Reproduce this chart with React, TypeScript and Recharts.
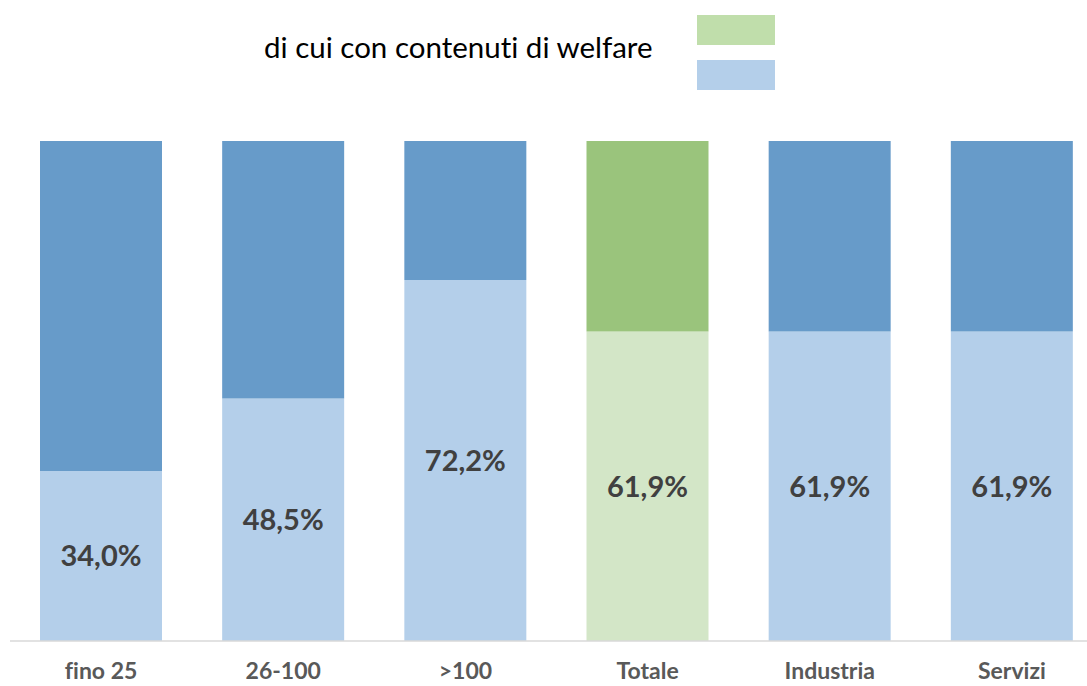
import { Bar, BarChart, Cell, LabelList, XAxis, YAxis } from "recharts";

const categories = ["fino 25", "26-100", ">100", "Totale", "Industria", "Servizi"];
const welfareShare = [34.0, 48.5, 72.2, 61.9, 61.9, 61.9];
const restShare = [66.0, 51.5, 27.8, 38.1, 38.1, 38.1];
const legendLabel = "di cui con contenuti di welfare";

const data = categories.map((name, i) => ({
  name,
  welfare: welfareShare[i],
  rest: restShare[i],
}));

const LIGHT_BLUE = "#B4CFEA";
const DARK_BLUE = "#679BC9";
const LIGHT_GREEN = "#D3E6C7";
const DARK_GREEN = "#9AC47C";

const fmt = (v: any) => `${Number(v).toFixed(1).replace(".", ",")}%`;

export default function App() {
  return (
    <div
      style={{
        position: "absolute",
        left: 0,
        top: 0,
        width: 1087,
        height: 686,
        overflow: "hidden",
        background: "#fff",
        fontVariantLigatures: "none",
      }}
    >
      <div
        style={{
          position: "absolute",
          left: 264,
          top: 29,
          fontFamily: "Lato",
          fontSize: 29.5,
          color: "#000",
          lineHeight: "36px",
          whiteSpace: "nowrap",
        }}
      >
        {legendLabel}
      </div>
      <div style={{ position: "absolute", left: 697, top: 15, width: 78, height: 30, background: "#C0DEAB" }} />
      <div style={{ position: "absolute", left: 697, top: 60, width: 78, height: 30, background: LIGHT_BLUE }} />
      <BarChart
        width={1103}
        height={686}
        data={data}
        margin={{ top: 141, right: 0, left: 10, bottom: 0 }}
        barSize={122}
      >
        <XAxis
          dataKey="name"
          height={45}
          axisLine={{ stroke: "#D9D9D9", strokeWidth: 1.5 }}
          tickLine={false}
          tick={{ fontFamily: "Lato", fontWeight: 700, fontSize: 23, fill: "#595959" }}
          dy={14}
        />
        <YAxis hide domain={[0, 100]} />
        <Bar dataKey="welfare" stackId="a" isAnimationActive={false}>
          {data.map((d) => (
            <Cell key={d.name} fill={d.name === "Totale" ? LIGHT_GREEN : LIGHT_BLUE} />
          ))}
          <LabelList
            dataKey="welfare"
            position="center"
            formatter={fmt}
            style={{ fontFamily: "Lato", fontWeight: 700, fontSize: 29, fill: "#404040" }}
          />
        </Bar>
        <Bar dataKey="rest" stackId="a" isAnimationActive={false}>
          {data.map((d) => (
            <Cell key={d.name} fill={d.name === "Totale" ? DARK_GREEN : DARK_BLUE} />
          ))}
        </Bar>
      </BarChart>
    </div>
  );
}
